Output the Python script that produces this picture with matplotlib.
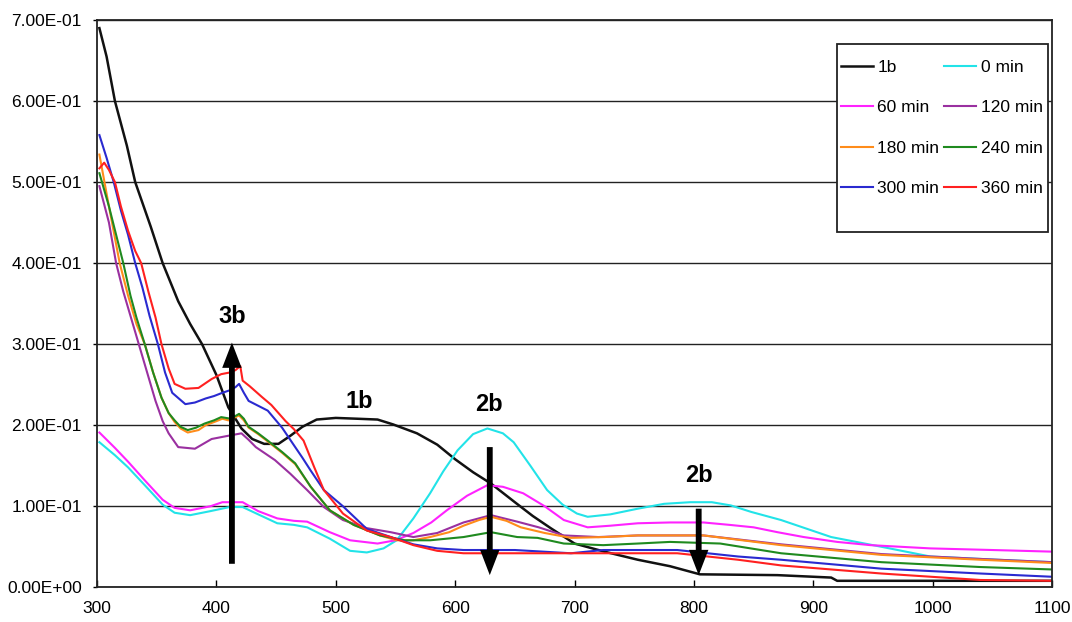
import matplotlib
matplotlib.use("Agg")
import matplotlib.pyplot as plt
from matplotlib.patches import Rectangle
from matplotlib.ticker import FuncFormatter, MultipleLocator

plt.rcParams['font.family'] = ['Liberation Sans', 'DejaVu Sans']

# --- data (wavelength nm, absorbance) ---
x_1b = [302, 308, 315, 325, 332, 345, 355, 368, 378, 388, 400, 410, 421, 430, 440, 452, 462, 472, 484,
        500, 518, 535, 548, 568, 585, 600, 615, 630, 650, 665, 680, 700, 725, 753, 780, 805, 870, 915,
        920, 1100]
y_1b = [0.69, 0.655, 0.60, 0.545, 0.50, 0.445, 0.40, 0.353, 0.325, 0.30, 0.262, 0.222, 0.196, 0.183,
        0.177, 0.177, 0.187, 0.198, 0.207, 0.209, 0.208, 0.207, 0.201, 0.190, 0.176, 0.158, 0.142, 0.128,
        0.105, 0.088, 0.073, 0.054, 0.044, 0.034, 0.026, 0.016, 0.015, 0.012, 0.008, 0.008]

x_0 = [302, 315, 326, 340, 355, 365, 378, 395, 411, 422, 435, 451, 465, 476, 495, 512, 526, 540, 551,
       565, 579, 590, 602, 615, 627, 640, 649, 663, 677, 690, 702, 711, 730, 753, 775, 797, 815, 831,
       848, 873, 915, 957, 998, 1054, 1100]
y_0 = [0.179, 0.163, 0.148, 0.126, 0.102, 0.092, 0.089, 0.094, 0.099, 0.099, 0.090, 0.079, 0.077,
       0.074, 0.060, 0.045, 0.043, 0.048, 0.058, 0.085, 0.116, 0.143, 0.169, 0.189, 0.196, 0.190, 0.179,
       0.150, 0.120, 0.102, 0.091, 0.087, 0.090, 0.097, 0.103, 0.105, 0.105, 0.101, 0.093, 0.083, 0.062,
       0.050, 0.038, 0.034, 0.031]

x_60 = [302, 315, 326, 340, 355, 365, 378, 395, 405, 422, 435, 451, 465, 476, 495, 512, 535, 550, 565,
        580, 593, 610, 627, 640, 657, 675, 691, 711, 730, 753, 780, 808, 830, 850, 870, 892, 920, 948,
        998, 1050, 1100]
y_60 = [0.191, 0.172, 0.155, 0.132, 0.108, 0.098, 0.095, 0.100, 0.105, 0.105, 0.094, 0.085, 0.082,
        0.081, 0.068, 0.058, 0.054, 0.058, 0.067, 0.080, 0.095, 0.113, 0.126, 0.124, 0.116, 0.100, 0.083,
        0.074, 0.076, 0.079, 0.080, 0.080, 0.077, 0.074, 0.068, 0.062, 0.056, 0.052, 0.048, 0.046, 0.044]

x_120 = [302, 310, 316, 322, 328, 335, 342, 349, 355, 360, 368, 382, 396, 410, 421, 427, 433, 441, 449,
         462, 476, 490, 506, 526, 546, 565, 585, 607, 630, 652, 670, 691, 720, 753, 808, 873, 957, 1040,
         1100]
y_120 = [0.495, 0.45, 0.40, 0.365, 0.335, 0.30, 0.265, 0.23, 0.205, 0.19, 0.173, 0.171, 0.183, 0.187,
         0.19, 0.182, 0.173, 0.165, 0.157, 0.14, 0.12, 0.099, 0.083, 0.073, 0.068, 0.062, 0.067, 0.080,
         0.089, 0.081, 0.074, 0.064, 0.062, 0.064, 0.064, 0.053, 0.041, 0.035, 0.031]

x_180 = [302, 310, 319, 326, 333, 340, 347, 354, 360, 365, 370, 376, 385, 391, 400, 405, 410, 419, 423,
         427, 435, 443, 455, 466, 479, 495, 515, 537, 551, 565, 579, 595, 607, 620, 630, 643, 655, 675,
         697, 725, 753, 808, 873, 957, 1040, 1100]
y_180 = [0.534, 0.47, 0.40, 0.36, 0.325, 0.30, 0.265, 0.234, 0.215, 0.204, 0.196, 0.191, 0.194, 0.200,
         0.205, 0.208, 0.206, 0.212, 0.206, 0.197, 0.189, 0.180, 0.166, 0.152, 0.124, 0.095, 0.077, 0.064,
         0.058, 0.058, 0.062, 0.068, 0.076, 0.083, 0.087, 0.082, 0.074, 0.067, 0.061, 0.062, 0.064, 0.064,
         0.052, 0.040, 0.034, 0.030]

x_240 = [302, 310, 322, 328, 333, 340, 347, 354, 360, 365, 370, 376, 383, 390, 398, 404, 412, 419, 423,
         427, 435, 443, 455, 466, 479, 495, 515, 537, 558, 579, 607, 630, 652, 669, 691, 724, 753, 780,
         822, 873, 957, 1040, 1100]
y_240 = [0.511, 0.47, 0.40, 0.36, 0.333, 0.30, 0.265, 0.234, 0.215, 0.206, 0.198, 0.194, 0.197, 0.202,
         0.206, 0.210, 0.208, 0.214, 0.208, 0.198, 0.190, 0.181, 0.167, 0.153, 0.124, 0.095, 0.077, 0.064,
         0.058, 0.058, 0.062, 0.068, 0.062, 0.061, 0.054, 0.052, 0.054, 0.056, 0.054, 0.042, 0.031, 0.025,
         0.022]

x_300 = [302, 308, 314, 320, 326, 332, 338, 344, 351, 357, 363, 374, 382, 391, 398, 405, 411, 416, 419,
         423, 427, 435, 443, 455, 466, 472, 479, 490, 506, 526, 546, 565, 585, 607, 650, 697, 724, 786,
         837, 873, 957, 1040, 1100]
y_300 = [0.558, 0.53, 0.50, 0.465, 0.435, 0.40, 0.37, 0.335, 0.30, 0.265, 0.24, 0.226, 0.228, 0.233,
         0.236, 0.240, 0.243, 0.247, 0.251, 0.240, 0.230, 0.224, 0.218, 0.197, 0.173, 0.160, 0.144, 0.120,
         0.100, 0.072, 0.062, 0.053, 0.048, 0.046, 0.046, 0.042, 0.046, 0.046, 0.038, 0.034, 0.023, 0.017,
         0.013]

x_360 = [302, 306, 310, 315, 320, 326, 332, 337, 343, 349, 354, 360, 365, 374, 385, 396, 404, 411, 416,
         420, 422, 428, 438, 446, 458, 465, 473, 482, 490, 506, 526, 546, 565, 585, 607, 650, 700, 724,
         786, 837, 873, 957, 1040, 1100]
y_360 = [0.517, 0.524, 0.515, 0.50, 0.47, 0.44, 0.415, 0.40, 0.365, 0.333, 0.30, 0.27, 0.251, 0.245,
         0.246, 0.257, 0.263, 0.265, 0.268, 0.273, 0.255, 0.248, 0.235, 0.225, 0.205, 0.195, 0.181, 0.148,
         0.120, 0.091, 0.070, 0.062, 0.052, 0.045, 0.042, 0.042, 0.042, 0.042, 0.042, 0.034, 0.027, 0.017,
         0.009, 0.008]

series = [
    ("1b", x_1b, y_1b, "#111111", 1.8),
    ("0 min", x_0, y_0, "#22e3e8", 1.5),
    ("60 min", x_60, y_60, "#ff22ff", 1.5),
    ("120 min", x_120, y_120, "#9a30a0", 1.5),
    ("180 min", x_180, y_180, "#ff8c1a", 1.5),
    ("240 min", x_240, y_240, "#1f8a1f", 1.5),
    ("300 min", x_300, y_300, "#2a2ad0", 1.5),
    ("360 min", x_360, y_360, "#ff2020", 1.5),
]

# peak labels and arrows: (label, text x, text y, arrow x, tail y, tip y)
marks = [
    ("3b", 413, 0.334, 413, 0.029, 0.302),
    ("1b", 520, 0.229, None, None, None),
    ("2b", 628, 0.226, 629, 0.173, 0.015),
    ("2b", 804, 0.138, 804, 0.097, 0.015),
]

fig = plt.figure(figsize=(10.72, 6.22), dpi=100)
ax = fig.add_axes([0.0905, 0.0558, 0.8909, 0.912])

lines = {}
for name, xs, ys, col, lw in series:
    lines[name], = ax.plot(xs, ys, color=col, lw=lw, label=name, zorder=2)

ax.set_xlim(300, 1100)
ax.set_ylim(0, 0.7)
ax.xaxis.set_major_locator(MultipleLocator(100))
ax.yaxis.set_major_locator(MultipleLocator(0.1))
ax.yaxis.set_major_formatter(FuncFormatter(lambda v, p: f"{v:.2E}"))
ax.tick_params(axis='x', direction='in', length=5, width=1, labelsize=12.5, pad=10)
ax.tick_params(axis='y', direction='out', length=3, width=1, labelsize=12.5, pad=8)
ax.grid(axis='y', color='#222222', lw=1.0)
ax.set_axisbelow(True)
for s in ax.spines.values():
    s.set_color('#222222')
    s.set_linewidth(1.3)

for lab, tx, ty, axx, y0, y1 in marks:
    ax.text(tx, ty, lab, fontsize=17, fontweight='bold', ha='center', va='center', zorder=6)
    if axx is not None:
        ax.annotate('', xy=(axx, y1), xytext=(axx, y0),
                    arrowprops=dict(arrowstyle='simple,head_length=1.3,head_width=1.0,tail_width=0.3',
                                    lw=0, color='black', mutation_scale=14,
                                    shrinkA=0, shrinkB=0), zorder=6)

# legend box
ax.add_patch(Rectangle((0.7746, 0.6263), 0.2212, 0.3314, transform=ax.transAxes,
                       facecolor='white', edgecolor='#222222', lw=1.3, zorder=4))
order = ["1b", "60 min", "180 min", "300 min", "0 min", "120 min", "240 min", "360 min"]
leg = ax.legend([lines[k] for k in order], order, ncol=2, loc='upper left',
                bbox_to_anchor=(0.7787, 0.9295), frameon=False, borderpad=0,
                fontsize=12.5, handlelength=1.85, handletextpad=0.25,
                columnspacing=0.3, labelspacing=1.45, borderaxespad=0)
leg.set_zorder(5)

fig.savefig("out.png", dpi=100)
